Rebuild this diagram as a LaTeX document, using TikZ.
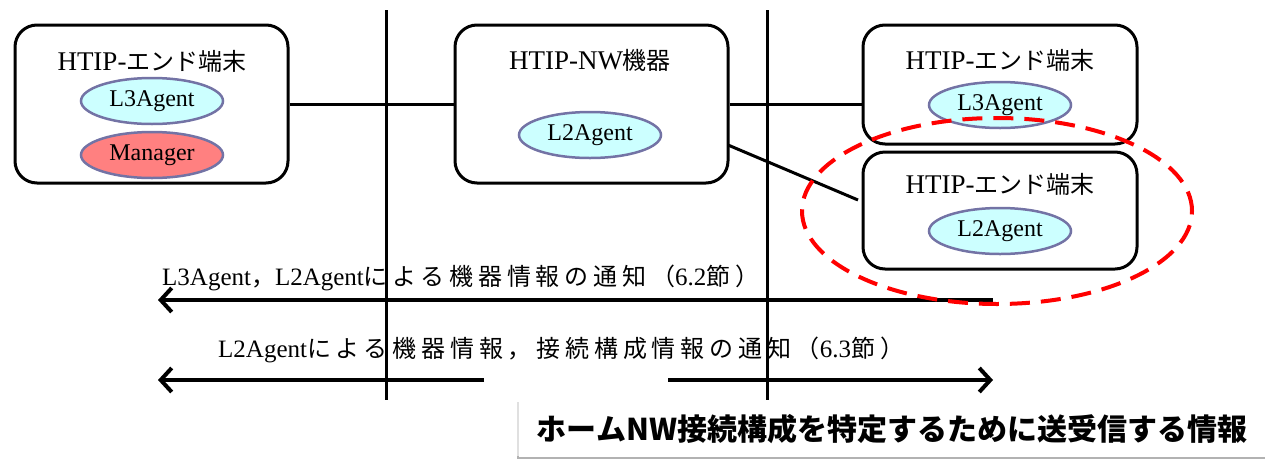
\documentclass[tikz,border=0pt]{standalone}
\usepackage{fontspec}
\setmainfont{Liberation Serif}
\newfontfamily\jp{Noto Sans CJK JP}
\newfontfamily\jps{Noto Sans CJK JP}[LetterSpace=20]
\newfontfamily\jpc{Noto Sans CJK JP}
\usetikzlibrary{shapes.geometric,arrows.meta}
\definecolor{agentline}{RGB}{115,115,165}
\definecolor{cyanfill}{RGB}{204,255,255}
\definecolor{mgrfill}{RGB}{255,128,128}
\tikzset{
 box/.style={draw=black,line width=3pt,rounded corners=22pt,minimum width=273pt,inner sep=0pt},
 agent/.style={ellipse,draw=agentline,line width=2.5pt,fill=cyanfill,minimum width=142pt,minimum height=46pt,inner sep=0pt,font=\fontsize{24}{28}\selectfont},
 mgr/.style={agent,fill=mgrfill},
 title/.style={font=\fontsize{27}{32}\selectfont,inner sep=0pt},
 link/.style={line width=3pt},
 divider/.style={line width=3pt},
 msg/.style={line width=4pt,-{Straight Barb[length=11pt,width=24pt,line width=4pt]}},
 msgline/.style={font=\fontsize{25}{30}\selectfont,inner sep=0pt,anchor=west},
 highlight/.style={ellipse,draw=red,line width=4pt,dash pattern=on 20pt off 11pt,minimum width=390pt,minimum height=186pt,inner sep=0pt},
 caption/.style={fill=white,minimum width=746pt,minimum height=56pt,inner sep=0pt,font=\jpc\bfseries\fontsize{30}{36}\selectfont},
}
\newcommand{\tj}[1]{{\jp\fontsize{24}{28}\selectfont #1}}
\newcommand{\mj}[1]{{\jps\fontsize{24}{28}\selectfont #1}}
\begin{document}
\begin{tikzpicture}[x=1pt,y=-1pt]
\useasboundingbox (0,0) rectangle (1265,461);

% boxes
\node[box,minimum height=158pt] (b1) at (151.5,104) {};
\node[box,minimum height=158pt] (b2) at (591.5,104) {};
\node[box,minimum width=274pt,minimum height=119pt] (b3) at (1000,84.5) {};
\node[box,minimum width=274pt,minimum height=117pt] (b4) at (1000,210.5) {};

% titles
\node[title] (t1) at (152,61) {HTIP-\tj{エンド端末}};
\node[title] (t2) at (590,60) {HTIP-NW\tj{機器}};
\node[title] (t3) at (1000,60) {HTIP-\tj{エンド端末}};
\node[title] (t4) at (1000,184) {HTIP-\tj{エンド端末}};

% agents
\node[agent] (a1) at (152,101) {L3Agent};
\node[mgr] (m1) at (152,155) {Manager};
\node[agent] (a2) at (590,135) {L2Agent};
\node[agent] (a3) at (1000,105) {L3Agent};
\node[agent] (a4) at (1000,231) {L2Agent};

% links
\coordinate (l3s) at (728,145);
\coordinate (l3e) at (858,200);
\draw[link] (b1.east) -- (b2.west);
\draw[link] (b2.east) -- (b2.east -| b3.west);
\draw[link] (l3s) -- (l3e);

% message texts
\node[msgline] (m1t) at (162,278) {L3Agent\mj{，}L2Agent\mj{による機器情報の通知（}6.2\mj{節）}};
\node[msgline] (m2t) at (218,350) {L2Agent\mj{による機器情報，接続構成情報の通知（}6.3\mj{節）}};

% dividers
\coordinate (d1t) at (386,10);
\coordinate (d1b) at (386,400);
\coordinate (d2t) at (767,10);
\coordinate (d2b) at (767,400);
\draw[divider] (d1t) -- (d1b);
\draw[divider] (d2t) -- (d2b);

% message arrows
\coordinate (r1s) at (993,300);
\coordinate (r1e) at (158,300);
\coordinate (r2s) at (484,380);
\coordinate (r2e) at (158,380);
\coordinate (r3s) at (668,380);
\coordinate (r3e) at (993,380);
\draw[msg] (r1s) -- (r1e);
\draw[msg] (r2s) -- (r2e);
\draw[msg] (r3s) -- (r3e);

% highlight
\node[highlight] (hl) at (997,211) {};

% caption
\fill[black!12] (517,402) rectangle (1265,459);
\fill[black!30] (517,456) rectangle (1265,459);
\node[caption] (cap) at (892,429) {ホームNW接続構成を特定するために送受信する情報};
\end{tikzpicture}
\end{document}
